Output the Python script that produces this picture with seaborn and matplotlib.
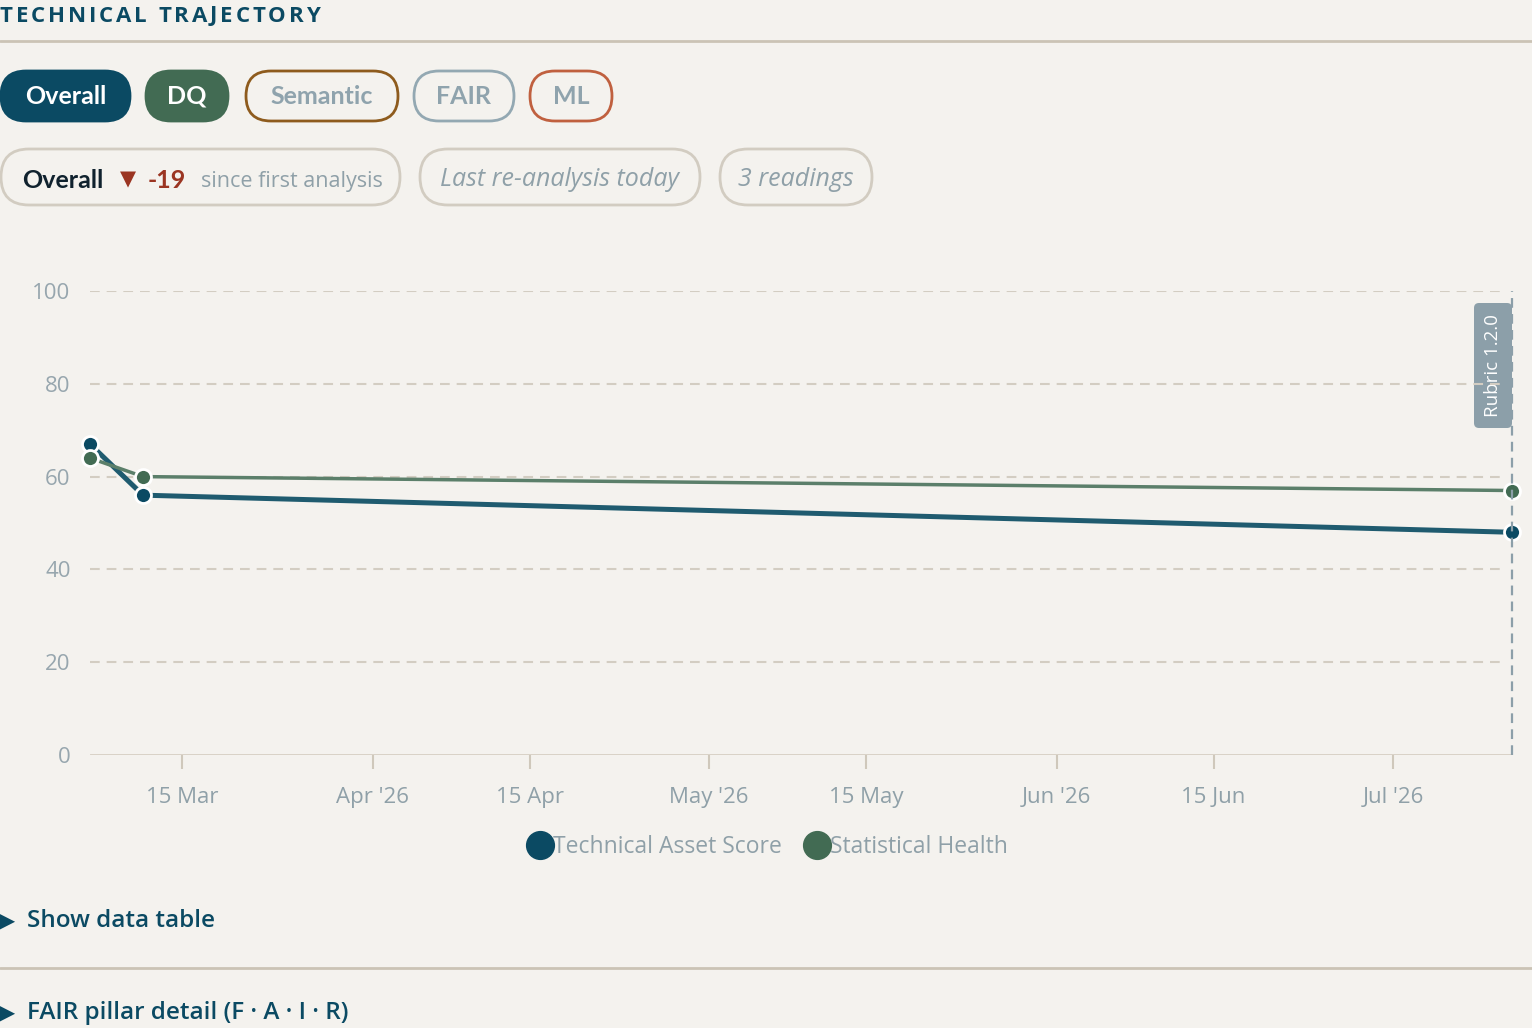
import numpy as np
import pandas as pd
import matplotlib
matplotlib.use("Agg")
import matplotlib.pyplot as plt
from matplotlib.patches import FancyBboxPatch
from matplotlib.lines import Line2D
import seaborn as sns

# dati
date_letture = ["2026-03-06 19:00", "2026-03-11 12:30", "2026-07-11 14:30"]
technical_score = [67, 56, 48]
statistical_health = [64, 60, 57]
serie_nomi = ["Technical Asset Score", "Statistical Health"]
serie_colori = ["#0b4a63", "#426b53"]
linee_colori = ["#1f5b6f", "#5b7f6a"]
tick_date = ["2026-03-15", "2026-04-01", "2026-04-15", "2026-05-01",
             "2026-05-15", "2026-06-01", "2026-06-15", "2026-07-01"]
tick_etichette = ["15 Mar", "Apr '26", "15 Apr", "May '26",
                  "15 May", "Jun '26", "15 Jun", "Jul '26"]
y_tick = [0, 20, 40, 60, 80, 100]
filtri = ["Overall", "DQ", "Semantic", "FAIR", "ML"]
delta_overall = -19
n_letture = 3
versione_rubric = "1.2.0"

W, H = 1532, 1028
bg = "#f4f2ee"
grigio = "#8c9fa9"
beige = "#cfc8bb"
blu = "#0b4a63"
testo_grigio = "#8fa0a8"

sns.set_theme(style="white")
plt.rcParams['font.family'] = ['Open Sans', 'DejaVu Sans']
plt.rcParams['lines.scale_dashes'] = False

df = pd.DataFrame({
    "data": pd.to_datetime(date_letture * 2),
    "valore": technical_score + statistical_health,
    "serie": [serie_nomi[0]] * 3 + [serie_nomi[1]] * 3,
})

fig = plt.figure(figsize=(W / 100, H / 100), dpi=100, facecolor=bg)

# overlay in pixel per la parte "interfaccia"
ov = fig.add_axes([0, 0, 1, 1], zorder=0)
ov.set_xlim(0, W)
ov.set_ylim(H, 0)
ov.axis("off")
ov.patch.set_alpha(0)

ax = fig.add_axes([90 / W, (H - 755) / H, 1422 / W, 464 / H], zorder=1)
ax.patch.set_alpha(0)

# linee di griglia
for v in y_tick[1:]:
    ax.axhline(v, xmax=0.995, color="#d3cdc2", lw=1.5, dashes=(7, 5), zorder=0)
ax.axhline(0, color="#d6cfc3", lw=2, zorder=0)

lw = [3.6, 2.5]
for i, nome in enumerate(serie_nomi):
    sns.lineplot(data=df[df.serie == nome], x="data", y="valore", ax=ax,
                 color=linee_colori[i], lw=lw[i], marker="o", markersize=11.5,
                 markerfacecolor=serie_colori[i], markeredgecolor="white",
                 markeredgewidth=2, clip_on=False, legend=False, zorder=3 + i)

fine = pd.to_datetime(date_letture[-1])
ax.axvline(fine, color=grigio, lw=1.6, dashes=(7, 4.5), zorder=6, clip_on=False)

ax.set_xlim(pd.to_datetime(date_letture[0]), fine)
ax.set_ylim(0, 100)
ax.set_xticks(pd.to_datetime(tick_date))
ax.set_xticklabels(tick_etichette)
ax.set_yticks(y_tick)
ax.tick_params(axis="x", bottom=True, length=10, width=1.5, color=beige, pad=13,
               labelsize=16, labelcolor=testo_grigio)
ax.tick_params(axis="y", length=0, pad=14, labelsize=16, labelcolor="#97a6ae")
ax.set_xlabel("")
ax.set_ylabel("")
sns.despine(ax=ax, left=True, bottom=True)

# etichetta rubric
ov.add_patch(FancyBboxPatch((1474, 303), 38, 125, boxstyle="round,pad=0,rounding_size=5",
                            fc=grigio, ec="none"))
ov.text(1493, 366, f"Rubric {versione_rubric}", rotation=90, color="white",
        fontsize=13.5, ha="center", va="center")

# legenda
maniglie = [Line2D([], [], ls="none", marker="o", ms=20, mfc=c, mec=c) for c in serie_colori]
fig.legend(maniglie, serie_nomi, loc="center", bbox_to_anchor=(767 / W, (H - 847) / H),
           ncol=2, frameon=False, fontsize=16.5, labelcolor=testo_grigio,
           handletextpad=0.0, columnspacing=0.9, handlelength=1.2)

# titolo spaziato
r = fig.canvas.get_renderer()
x = 0
for ch in "TECHNICAL TRAJECTORY":
    if ch == " ":
        x += 9
        continue
    t = ov.text(x, 16, ch, fontsize=16, fontweight="bold", color=blu, va="center", ha="left")
    x += t.get_window_extent(r).width + 2.8

ov.plot([0, W], [41, 41], color="#cbc3b5", lw=2)
ov.plot([0, W], [968, 968], color="#cbc3b5", lw=2)

# pillole filtri
pill = [(0, 131, blu, blu, "white"), (145, 229, "#426b53", "#426b53", "white"),
        (245, 399, "none", "#8e5b1d", "#8fa3ad"), (413, 515, "none", "#93a8b2", "#8fa3ad"),
        (529, 613, "none", "#c0603f", "#8fa3ad")]
for nome, (x0, x1, fc, ec, tc) in zip(filtri, pill):
    ov.add_patch(FancyBboxPatch((x0 + 1, 71), x1 - x0 - 2, 50,
                                boxstyle="round,pad=0,rounding_size=25",
                                fc=fc, ec=ec, lw=2))
    ov.text((x0 + x1) / 2, 96, nome, fontsize=18, fontweight="bold", color=tc,
            ha="center", va="center", family=["Lato", "DejaVu Sans"])

# pillole info
for x0, x1 in [(0, 401), (419, 701), (719, 873)]:
    ov.add_patch(FancyBboxPatch((x0 + 1, 149), x1 - x0 - 2, 56,
                                boxstyle="round,pad=0,rounding_size=28",
                                fc="none", ec="#d2ccc1", lw=2))
ov.text(22, 180, "Overall", fontsize=18, fontweight="bold", color="#10222e", va="center",
        family=["Lato", "DejaVu Sans"])
ov.text(120, 179, "▼", fontsize=15, color="#9b3522", va="center",
        family=["DejaVu Sans"])
ov.text(148, 180, f"{delta_overall}", fontsize=18, fontweight="bold", color="#9b3522",
        va="center", family=["Lato", "DejaVu Sans"])
ov.text(201, 181, "since first analysis", fontsize=15.5, color=testo_grigio, va="center")
ov.text(560, 180, "Last re-analysis today", fontsize=18, style="italic",
        color=testo_grigio, ha="center", va="center")
ov.text(796, 180, f"{n_letture} readings", fontsize=18, style="italic",
        color=testo_grigio, ha="center", va="center")

# sezioni espandibili
for yy, testo in [(921, "Show data table"), (1013, "FAIR pillar detail (F · A · I · R)")]:
    ov.text(-3, yy, "▶", fontsize=17, color=blu, va="center", family=["DejaVu Sans"])
    ov.text(27, yy, testo, fontsize=17.5, color=blu, va="center", fontweight="semibold")

fig.savefig("out.png", dpi=100, facecolor=bg)
